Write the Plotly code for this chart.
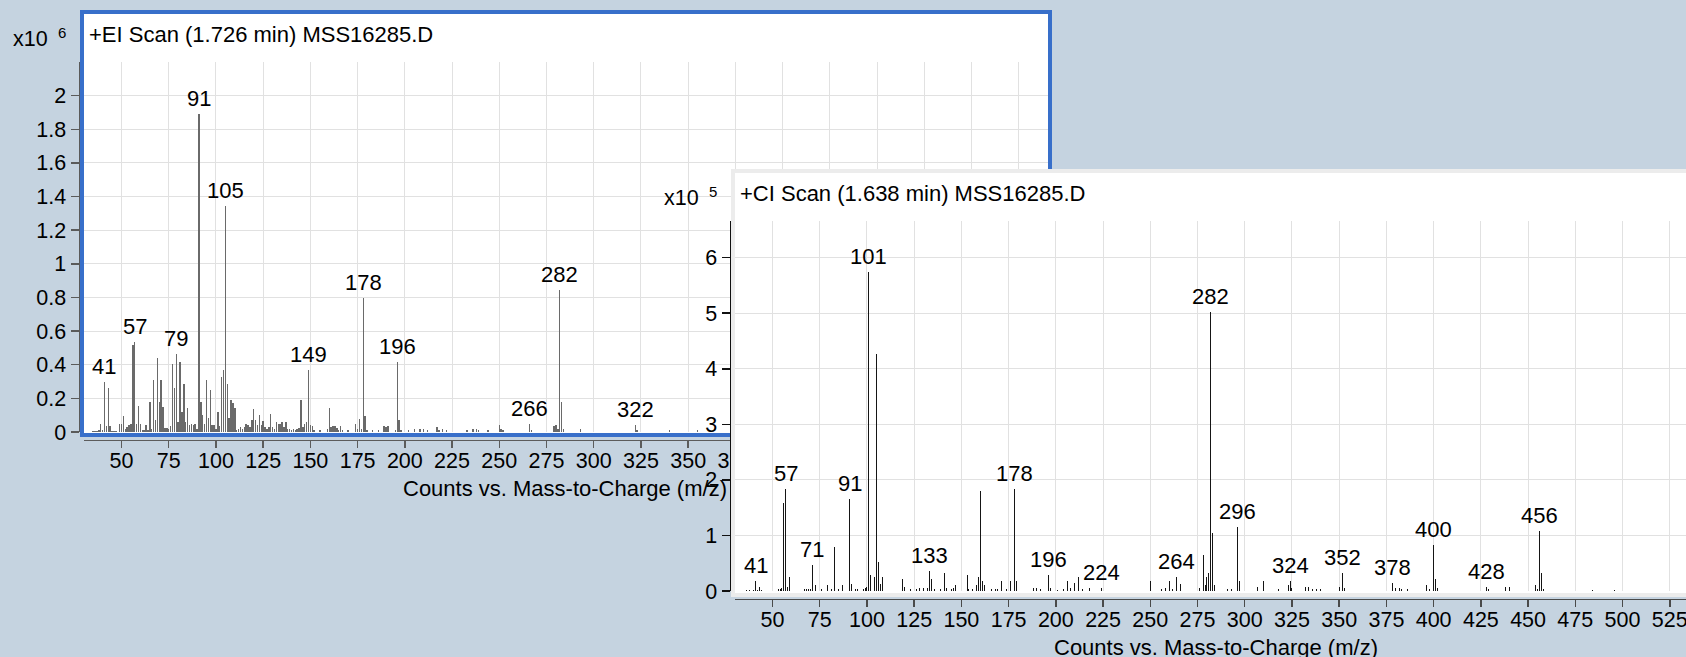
import plotly.graph_objects as go

W, H = 1686, 657
FONT = "Liberation Sans, Arial, sans-serif"

# ---------------- EI spectrum (abundance, x10^6 counts) ----------------
ei_mz = [35, 36, 37, 38, 39, 40, 41, 42, 43, 44, 45, 46, 47, 49, 50, 51, 52, 53, 54, 55,
         56, 57, 58, 59, 60, 61, 62, 63, 64, 65, 66, 67, 68, 69, 70, 71, 72, 73, 74, 75,
         76, 77, 78, 79, 80, 81, 82, 83, 84, 85, 86, 87, 88, 89, 90, 91, 92, 93, 94, 95,
         96, 97, 98, 99, 100, 101, 102, 103, 104, 105, 106, 107, 108, 109, 110, 111, 112, 113, 114, 115,
         116, 117, 118, 119, 120, 121, 122, 123, 124, 125, 126, 127, 128, 129, 130, 131, 132, 133, 134, 135,
         136, 137, 138, 139, 140, 141, 142, 143, 144, 145, 146, 147, 148, 149, 150, 151, 152, 155, 159, 160,
         161, 162, 163, 164, 165, 166, 167, 170, 174, 175, 176, 177, 178, 179, 180, 183, 186, 189, 190, 191,
         195, 196, 197, 198, 202, 205, 208, 210, 212, 217, 218, 220, 222, 233, 236, 238, 239, 244, 250, 251,
         252, 266, 267, 279, 280, 281, 282, 283, 284, 293, 322, 323, 340, 355]
ei_abund = [0.006, 0.006, 0.008, 0.010, 0.050, 0.010, 0.297, 0.036, 0.260, 0.036, 0.008, 0.005, 0.006, 0.045, 0.050, 0.095, 0.020, 0.030, 0.040, 0.050,
            0.520, 0.535, 0.045, 0.155, 0.045, 0.010, 0.010, 0.040, 0.010, 0.180, 0.020, 0.310, 0.070, 0.440, 0.180, 0.310, 0.150, 0.025, 0.025, 0.020,
            0.035, 0.405, 0.260, 0.465, 0.060, 0.415, 0.120, 0.287, 0.060, 0.145, 0.040, 0.045, 0.040, 0.045, 0.020, 1.890, 0.180, 0.100, 0.050, 0.310,
            0.085, 0.250, 0.040, 0.040, 0.020, 0.120, 0.035, 0.325, 0.370, 1.343, 0.287, 0.085, 0.190, 0.170, 0.145, 0.010, 0.020, 0.030, 0.020, 0.030,
            0.045, 0.040, 0.030, 0.070, 0.134, 0.074, 0.040, 0.100, 0.040, 0.064, 0.030, 0.020, 0.030, 0.110, 0.030, 0.020, 0.060, 0.050, 0.050, 0.060,
            0.030, 0.060, 0.020, 0.015, 0.010, 0.015, 0.010, 0.020, 0.025, 0.190, 0.030, 0.050, 0.060, 0.370, 0.040, 0.035, 0.010, 0.010, 0.020, 0.143,
            0.030, 0.035, 0.035, 0.025, 0.010, 0.035, 0.010, 0.010, 0.045, 0.020, 0.080, 0.020, 0.798, 0.095, 0.010, 0.010, 0.010, 0.035, 0.030, 0.035,
            0.010, 0.416, 0.070, 0.010, 0.010, 0.015, 0.015, 0.020, 0.010, 0.030, 0.012, 0.020, 0.010, 0.010, 0.015, 0.020, 0.012, 0.010, 0.044, 0.020,
            0.010, 0.050, 0.010, 0.036, 0.044, 0.015, 0.845, 0.178, 0.020, 0.015, 0.040, 0.010, 0.010, 0.010]
ei_labeled = [41, 57, 79, 91, 105, 149, 178, 196, 266, 282, 322]

# ---------------- CI spectrum (abundance, x10^5 counts) ----------------
ci_mz = [36, 38, 40, 41, 42, 43, 44, 53, 54, 55, 56, 57, 58, 59, 67, 68, 69, 70, 71, 73,
         76, 79, 81, 83, 85, 87, 91, 92, 94, 95, 98, 99, 100, 101, 102, 104, 105, 106, 107, 108,
         119, 120, 123, 126, 128, 130, 132, 133, 134, 136, 139, 141, 142, 145, 146, 147, 153, 154, 156, 158,
         159, 160, 161, 162, 166, 168, 169, 171, 174, 176, 178, 179, 188, 190, 192, 196, 197, 201, 204, 206,
         208, 210, 212, 214, 218, 224, 250, 256, 258, 260, 262, 264, 266, 276, 278, 279, 280, 281, 282, 283,
         284, 291, 293, 296, 297, 307, 310, 318, 323, 324, 325, 332, 334, 336, 338, 340, 350, 352, 353, 378,
         380, 382, 383, 386, 396, 398, 400, 401, 402, 428, 429, 438, 440, 454, 455, 456, 457, 458, 484, 496]
ci_abund = [0.01, 0.01, 0.02, 0.18, 0.02, 0.07, 0.01, 0.03, 0.03, 0.05, 1.585, 1.83, 0.07, 0.25, 0.03, 0.03, 0.03, 0.03, 0.47, 0.10,
            0.03, 0.10, 0.03, 0.79, 0.03, 0.10, 1.65, 0.13, 0.03, 0.04, 0.03, 0.05, 0.08, 5.74, 0.28, 0.25, 4.27, 0.53, 0.13, 0.25,
            0.21, 0.07, 0.03, 0.03, 0.05, 0.05, 0.05, 0.355, 0.21, 0.03, 0.03, 0.32, 0.05, 0.03, 0.05, 0.10, 0.28, 0.04, 0.03, 0.10,
            0.25, 1.80, 0.18, 0.10, 0.03, 0.04, 0.03, 0.18, 0.04, 0.18, 1.83, 0.18, 0.05, 0.05, 0.03, 0.29, 0.05, 0.02, 0.04, 0.18,
            0.05, 0.14, 0.25, 0.03, 0.05, 0.06, 0.18, 0.03, 0.05, 0.18, 0.04, 0.25, 0.13, 0.05, 0.64, 0.10, 0.25, 0.32, 5.02, 1.045,
            0.10, 0.04, 0.04, 1.155, 0.18, 0.07, 0.18, 0.04, 0.10, 0.18, 0.05, 0.07, 0.07, 0.04, 0.03, 0.04, 0.07, 0.325, 0.06, 0.14,
            0.05, 0.05, 0.03, 0.03, 0.10, 0.04, 0.824, 0.21, 0.05, 0.07, 0.03, 0.07, 0.07, 0.10, 0.04, 1.077, 0.325, 0.04, 0.02, 0.02]
ci_labeled = [41, 57, 71, 91, 101, 133, 178, 196, 224, 264, 282, 296, 324, 352, 378, 400, 428, 456]

# ---------------- axis ticks ----------------
mz_ticks = [50, 75, 100, 125, 150, 175, 200, 225, 250, 275, 300, 325, 350, 375, 400, 425, 450, 475, 500, 525]
ei_y_ticks = [0, 0.2, 0.4, 0.6, 0.8, 1.0, 1.2, 1.4, 1.6, 1.8, 2.0]
ei_y_text = ["0", "0.2", "0.4", "0.6", "0.8", "1", "1.2", "1.4", "1.6", "1.8", "2"]
ci_y_ticks = [0, 1, 2, 3, 4, 5, 6]
ci_y_text = ["0", "1", "2", "3", "4", "5", "6"]

EI_TITLE = "+EI Scan (1.726 min) MSS16285.D"
CI_TITLE = "+CI Scan (1.638 min) MSS16285.D"
X_TITLE = "Counts vs. Mass-to-Charge (m/z)"


def fx(px):
    return px / W


def fy(py):
    return 1 - py / H


# the CI panel is laid out like the EI panel, shifted right/down
DX, DY = 651, 159

BG = "#c5d3e0"
GRID = "#e1e1e1"
BLUE = "#386fca"

fig = go.Figure()

fig.add_trace(go.Bar(x=ei_mz, y=ei_abund, xaxis="x", yaxis="y", width=0.8,
                     marker=dict(color="#6a6a6a", line=dict(width=0)), hoverinfo="skip"))
# helper subplot that supplies the white CI panel sitting over the EI panel
fig.add_trace(go.Scatter(x=[0.5], y=[0.5], xaxis="x2", yaxis="y2", mode="markers",
                         marker=dict(opacity=0), hoverinfo="skip"))
fig.add_trace(go.Bar(x=ci_mz, y=ci_abund, xaxis="x3", yaxis="y3", width=0.55,
                     marker=dict(color="#151515", line=dict(width=0)), hoverinfo="skip"))


def x_axis(domain, rng, line_y, color):
    return dict(domain=domain, range=rng, anchor="free", position=fy(line_y),
                tickmode="array", tickvals=mz_ticks, ticks="outside", ticklen=7, tickwidth=1.5,
                tickcolor=color, showline=True, linecolor=color, linewidth=1.5,
                showgrid=True, gridcolor=GRID, gridwidth=1, zeroline=False,
                tickfont=dict(family=FONT, size=21.5, color="black"), ticklabelstandoff=-6,
                ticklabeloverflow="allow", automargin=False, fixedrange=True)


def y_axis(domain, rng, line_x, vals, text, color):
    return dict(domain=domain, range=rng, anchor="free", position=fx(line_x),
                tickmode="array", tickvals=vals, ticktext=text, ticks="outside", ticklen=8,
                tickwidth=1.5, tickcolor=color, showline=True, linecolor=color, linewidth=1.5,
                showgrid=True, gridcolor=GRID, gridwidth=1, zeroline=False,
                tickfont=dict(family=FONT, size=21.5, color="black"),
                automargin=False, fixedrange=True)


annotations = []


def text_ann(x, y, txt, size, xanchor="center", yanchor="middle"):
    annotations.append(dict(x=fx(x), y=fy(y), xref="paper", yref="paper", text=txt,
                            showarrow=False, xanchor=xanchor, yanchor=yanchor,
                            font=dict(family=FONT, size=size, color="black")))


for dx, dy, title, exp in [(0, 0, EI_TITLE, "6"), (DX, DY, CI_TITLE, "5")]:
    text_ann(87 + dx, 34.5 + dy, title, 22, xanchor="left")
    text_ann(49.5 + dx, 38.5 + dy, "x10", 21.5, xanchor="right")
    text_ann(62 + dx, 32.5 + dy, exp, 15)
    text_ann(565 + dx, 488 + dy, X_TITLE, 22)


def peak_labels(mz, ab, labeled, xref, yref):
    for m in labeled:
        v = ab[mz.index(m)]
        annotations.append(dict(x=m, y=v, xref=xref, yref=yref, text=str(m), showarrow=False,
                                xanchor="center", yanchor="middle", yshift=15.5,
                                font=dict(family=FONT, size=22, color="black")))


peak_labels(ei_mz, ei_abund, ei_labeled, "x", "y")
peak_labels(ci_mz, ci_abund, ci_labeled, "x3", "y3")

shapes = [
    # EI panel frame (selected panel, blue outline)
    dict(type="rect", xref="paper", yref="paper", layer="below",
         x0=fx(82), x1=fx(1050), y0=fy(435), y1=fy(12),
         fillcolor="white", line=dict(color=BLUE, width=4)),
    # CI panel frame, drawn in the helper subplot (clipped to it)
    dict(type="rect", xref="x2", yref="y2", layer="below",
         x0=0, x1=2, y0=0, y1=1, fillcolor="rgba(0,0,0,0)",
         line=dict(color="#ececec", width=8)),
]

fig.update_layout(
    width=W, height=H, margin=dict(l=0, r=0, t=0, b=0, pad=0),
    paper_bgcolor=BG, plot_bgcolor="white", showlegend=False,
    xaxis=x_axis([fx(84), fx(1048)], [30.15, 540.5], 439.5, "#5c5c5c"),
    yaxis=y_axis([fy(432), fy(62)], [0, 2.2], 78.5, ei_y_ticks, ei_y_text, "#5a5a5a"),
    xaxis2=dict(domain=[fx(731), 1], range=[0, 1], visible=False, fixedrange=True),
    yaxis2=dict(domain=[fy(597), fy(169)], range=[0, 1], visible=False, fixedrange=True),
    xaxis3=x_axis([fx(735), 1], [30.15, 533.6], 598.5, "#4a4a4a"),
    yaxis3=y_axis([fy(591), fy(221)], [0, 6.66], 729.5, ci_y_ticks, ci_y_text, "#111111"),
    annotations=annotations, shapes=shapes,
    bargap=0,
)

fig.write_html("out.html", config={"displayModeBar": False, "staticPlot": True})
